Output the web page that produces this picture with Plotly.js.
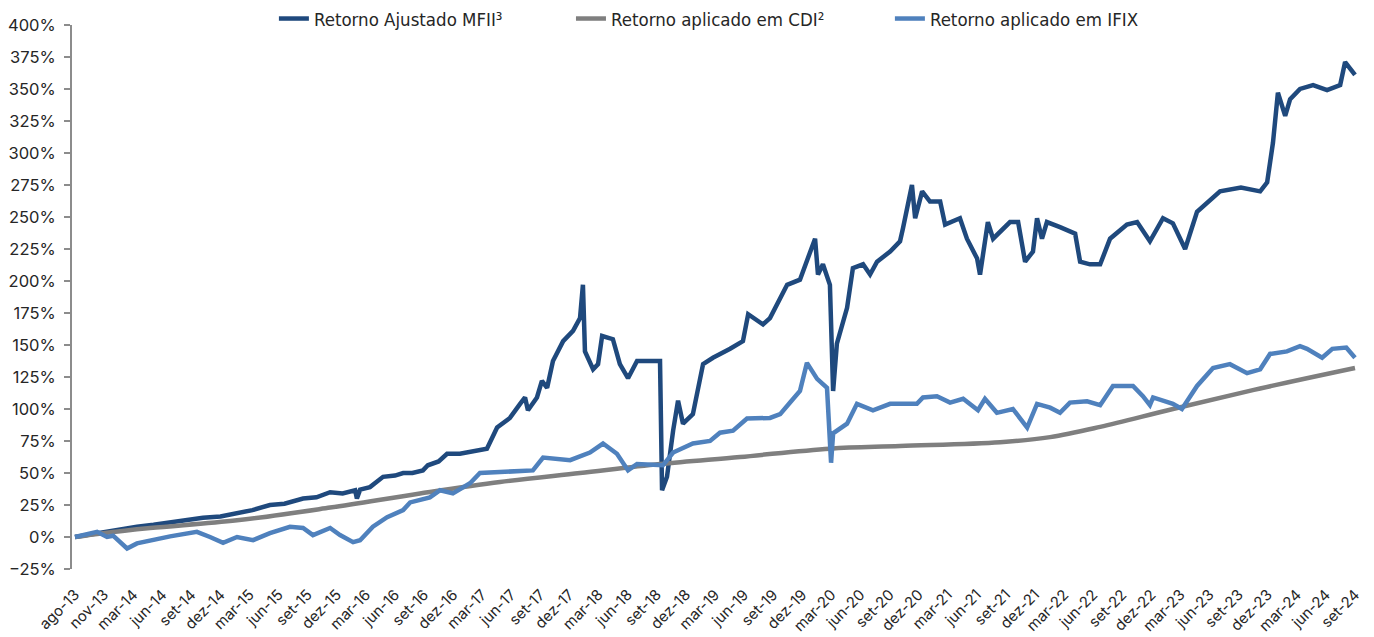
<!DOCTYPE html>
<html>
<head>
<meta charset="utf-8">
<script src="https://cdn.plot.ly/plotly-3.0.1.min.js"></script>
<style>
  html, body { margin: 0; padding: 0; background: #ffffff; }
  #chart { width: 1374px; height: 637px; }
</style>
</head>
<body>
<div id="chart"></div>
<script>
// Tick labels (evenly spaced positions on the category axis)
const tickLabels = ["ago-13","nov-13","mar-14","jun-14","set-14","dez-14","mar-15","jun-15","set-15","dez-15",
  "mar-16","jun-16","set-16","dez-16","mar-17","jun-17","set-17","dez-17","mar-18","jun-18",
  "set-18","dez-18","mar-19","jun-19","set-19","dez-19","mar-20","jun-20","set-20","dez-20",
  "mar-21","jun-21","set-21","dez-21","mar-22","jun-22","set-22","dez-22","mar-23","jun-23",
  "set-23","dez-23","mar-24","jun-24","set-24"];
const tickPos = tickLabels.map((_, i) => i);

// Retorno Ajustado MFII³ (position on label scale, value in %)
const mfiiX = [0,0.96,1.5,2.13,2.7,3.27,3.8,4.40,5.0,5.57,6.1,6.70,7.2,7.84,8.3,8.77,9.2,9.63,9.69,9.80,10.14,10.59,11.0,11.28,11.6,11.96,12.13,12.5,12.79,13.23,13.7,14.16,
  14.51,14.95,15.30,15.47,15.57,15.88,16.05,16.23,16.43,16.78,17.12,17.36,17.46,17.53,17.81,17.98,18.12,18.49,18.73,19.01,
  19.32,20.11,20.18,20.35,20.56,20.73,20.90,21.24,21.59,21.93,22.52,22.96,23.14,23.65,23.89,24.48,24.92,25.16,25.44,25.54,
  25.71,25.95,26.06,26.19,26.54,26.74,27.09,27.33,27.57,28.02,28.36,28.46,28.77,28.88,29.12,29.39,29.74,29.91,30.42,30.66,
  31.01,31.11,31.38,31.56,32.14,32.42,32.66,32.93,33.07,33.24,33.41,33.86,34.38,34.55,34.89,35.24,35.58,36.16,36.51,36.95,
  37.40,37.74,38.16,38.57,39.36,40.08,40.74,40.98,41.18,41.35,41.60,41.77,42.11,42.56,43.04,43.49,43.66,44.00];
const mfiiY = [0,4,6,8,9.5,11.5,13,15,16,18.5,21,25,26,30,31,35,34,36.5,30,37,39,47,48,50,50,52,56,59,65,65,67,69,
  85.5,93,104,109,99,109,122,116.5,137.5,153,161,171,197,145,131,135,157,154.5,135,124,
  137.5,137.5,36.5,47,83,106.5,88.5,96,135,140,147,153,174,166,171,197,201,215,233,205,
  213,197,114,151,179,210,213,205,215,223,231,241,275,249,270,262,262,244,249,233,
  217.5,205,246,233,246,246,215,223,249,233,246,242,237,215,213,213,233,244,246,231,
  249,245,225,254,270,273,270,277,308,347,329,342,350,353,349,353,371,361];

// Retorno aplicado em CDI²
const cdiX = [0,0.96,2.58,5.57,8.77,11.86,14.61,17.36,20.11,22.86,25.95,28.36,31.80,33.52,35.24,37.74,40.74,44.00];
const cdiY = [0,3,7,13,23,34,43,50,57,62.5,69,71,74,78,86,100,116,132];

// Retorno aplicado em IFIX
const ifixX = [0,0.76,1.10,1.31,1.79,2.13,3.27,4.19,4.64,5.09,5.57,6.12,6.70,7.39,7.84,8.18,8.77,9.11,9.56,9.80,
  10.24,10.73,11.28,11.52,12.20,12.55,12.99,13.58,13.92,14.71,15.74,16.09,17.02,17.70,18.15,18.63,19.01,19.32,19.87,20.21,
  20.56,21.24,21.83,22.17,22.62,23.10,23.89,24.24,24.58,24.92,25.16,25.51,25.85,25.99,26.06,26.54,26.88,27.43,28.02,28.94,
  29.15,29.63,30.08,30.53,31.04,31.28,31.69,32.24,32.73,33.07,33.52,33.86,34.20,34.79,35.24,35.68,36.37,36.71,36.95,37.06,
  37.74,38.05,38.57,39.12,39.70,40.29,40.74,41.08,41.66,42.11,42.35,42.87,43.22,43.70,44.00];
const ifixY = [0,4,0,1,-9,-5,0.5,4,0,-4.5,0,-2.5,3,8,7,1.5,7,1.5,-4,-2.5,
  8,15.5,21,27,31,36.5,34,42,50,50.5,52,62,60,66,73,65,52,57,56,56,
  66,73,75,81.5,83,92.5,93,96,105,114,136,123.5,116.5,58,81,88.5,104,99,104,104,
  109,110,105,108,99,108,97,100,85.5,104,101,97,105,106,103,118,118,110,103,109,
  104,100,118,132,135,128,131,143,145,149,147,140,147,148,140];

const font = "Inter, 'Noto Sans', sans-serif";
const legFont = {family: "'Liberation Sans Narrow', 'DejaVu Sans Condensed', Roboto, sans-serif", size: 18.5, color: "#262626"};

const traces = [
  {x: mfiiX, y: mfiiY, name: "Retorno Ajustado MFII³", type: "scatter", mode: "lines",
   line: {color: "#1f497d", width: 4.5}, legend: "legend"},
  {x: cdiX, y: cdiY, name: "Retorno aplicado em CDI²", type: "scatter", mode: "lines",
   line: {color: "#7f7f7f", width: 4.5, shape: "spline"}, legend: "legend2"},
  {x: ifixX, y: ifixY, name: "Retorno aplicado em IFIX", type: "scatter", mode: "lines",
   line: {color: "#4f81bd", width: 4.5}, legend: "legend3"}
];

function leg(x) {
  return {orientation: "h", x: x, xanchor: "left", y: 0.972, yanchor: "middle",
    font: legFont, bgcolor: "rgba(0,0,0,0)", borderwidth: 0};
}

const layout = {
  width: 1374, height: 637,
  margin: {l: 72, r: 16, t: 0, b: 68},
  paper_bgcolor: "#ffffff", plot_bgcolor: "#ffffff",
  font: {family: font, size: 15, color: "#262626"},
  showlegend: true,
  legend: leg(0.157),
  legend2: leg(0.388),
  legend3: leg(0.636),
  xaxis: {range: [-0.103, 44.103], tickmode: "array", tickvals: tickPos, ticktext: tickLabels,
    tickangle: -45, showgrid: false, zeroline: false, showline: false,
    ticks: "outside", ticklen: 10, tickcolor: "rgba(0,0,0,0)",
    tickfont: {family: font, size: 15, color: "#262626"}, automargin: false, fixedrange: true},
  yaxis: {domain: [0, 0.9613], range: [-25, 400], tickmode: "linear", tick0: 0, dtick: 25, ticksuffix: "%",
    showgrid: false, zeroline: false, showline: true, linecolor: "#8c8c8c", linewidth: 2,
    ticks: "outside", ticklen: 6, tickcolor: "#8c8c8c", tickwidth: 2, ticklabelstandoff: 5,
    tickfont: {family: font, size: 16.5, color: "#262626"}, automargin: false, fixedrange: true}
};

Plotly.newPlot("chart", traces, layout, {displayModeBar: false, staticPlot: true});
</script>
</body>
</html>
